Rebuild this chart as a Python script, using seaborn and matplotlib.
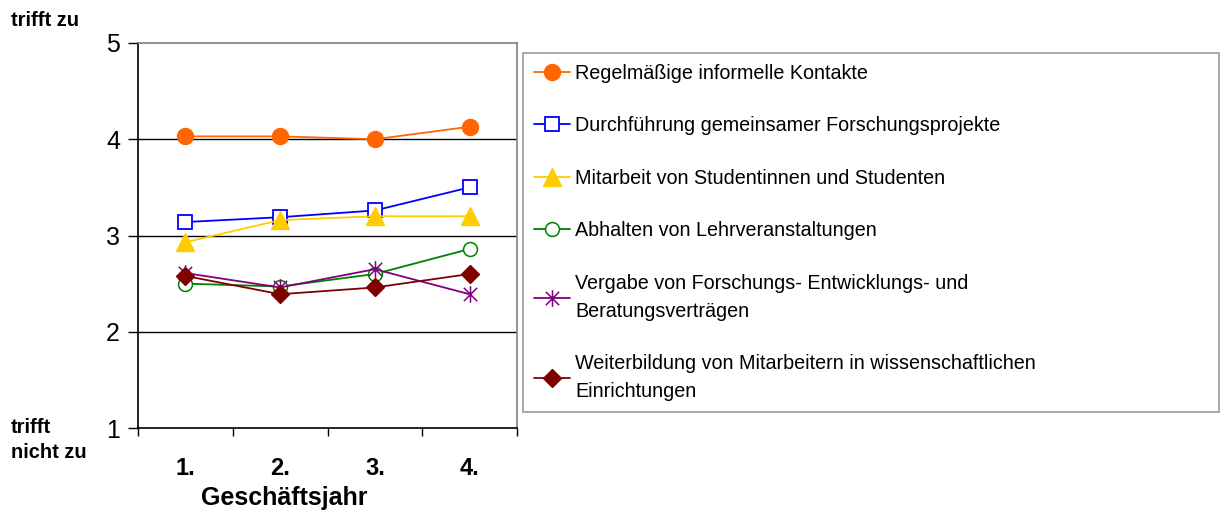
import numpy as np
import pandas as pd
import matplotlib
matplotlib.use("Agg")
import matplotlib.pyplot as plt
from matplotlib.path import Path
from matplotlib.ticker import FixedLocator, NullFormatter
import seaborn as sns

# ---- data ----
years = [1, 2, 3, 4]
year_labels = ["1.", "2.", "3.", "4."]
y_ticks = [1, 2, 3, 4, 5]

series_names = [
    "Regelmäßige informelle Kontakte",
    "Durchführung gemeinsamer Forschungsprojekte",
    "Mitarbeit von Studentinnen und Studenten",
    "Abhalten von Lehrveranstaltungen",
    "Vergabe von Forschungs- Entwicklungs- und\nBeratungsverträgen",
    "Weiterbildung von Mitarbeitern in wissenschaftlichen\nEinrichtungen",
]
kontakte = [4.03, 4.03, 4.00, 4.13]
forschungsprojekte = [3.14, 3.19, 3.26, 3.50]
studenten = [2.93, 3.16, 3.20, 3.20]
lehrveranstaltungen = [2.50, 2.47, 2.60, 2.86]
vertraege = [2.61, 2.46, 2.65, 2.39]
weiterbildung = [2.58, 2.39, 2.46, 2.60]
all_values = [kontakte, forschungsprojekte, studenten,
              lehrveranstaltungen, vertraege, weiterbildung]

# ---- styles ----
star = Path([(-1, -1), (1, 1), (-1, 1), (1, -1), (0, -1.25), (0, 1.25)],
            [Path.MOVETO, Path.LINETO, Path.MOVETO, Path.LINETO,
             Path.MOVETO, Path.LINETO])
styles = [
    dict(color="#FF6600", marker="o", mfc="#FF6600", ms=11.5, mew=1.0),
    dict(color="#0000FF", marker="s", mfc="white", ms=10.5, mew=1.3),
    dict(color="#FFCC00", marker="^", mfc="#FFCC00", ms=12.5, mew=1.0),
    dict(color="#008000", marker="o", mfc="white", ms=10, mew=1.1),
    dict(color="#800080", marker=star, mfc="none", ms=12, mew=1.1),
    dict(color="#800000", marker="D", mfc="#800000", ms=9.5, mew=1.0),
]

sns.set_style("white")
plt.rcParams["font.family"] = ["Liberation Sans", "DejaVu Sans"]
for k in ["text.color", "axes.labelcolor", "xtick.color", "ytick.color"]:
    plt.rcParams[k] = "black"

fig = plt.figure(figsize=(12.21, 5.15), dpi=100)
ax = fig.add_axes([138 / 1221, 1 - 428 / 515, (517 - 138) / 1221, (428 - 43) / 515])

for name, vals, st in zip(series_names, all_values, styles):
    df = pd.DataFrame({"Jahr": years, "Wert": vals})
    sns.lineplot(data=df, x="Jahr", y="Wert", ax=ax, color=st["color"],
                 marker=st["marker"], markerfacecolor=st["mfc"],
                 markeredgecolor=st["color"], markersize=st["ms"],
                 markeredgewidth=st["mew"], linewidth=1.3, label=name)

ax.set_xlim(0.5, 4.5)
ax.set_ylim(1, 5)
ax.set_yticks(y_ticks)
ax.set_yticklabels([str(v) for v in y_ticks], fontsize=18)
ax.set_xticks(years)
ax.set_xticklabels(year_labels, fontsize=17, fontweight="bold")
ax.xaxis.set_minor_locator(FixedLocator([0.5, 1.5, 2.5, 3.5, 4.5]))
ax.xaxis.set_minor_formatter(NullFormatter())
ax.tick_params(axis="x", which="major", length=0, pad=21)
ax.tick_params(axis="x", which="minor", length=6, width=1, color="black",
               direction="out", bottom=True)
ax.tick_params(axis="y", which="major", length=7, width=1, color="black",
               direction="out", left=True, pad=6)

for yv in [2, 3, 4]:
    ax.axhline(yv, color="black", lw=1, zorder=0)

ax.spines["left"].set_color("black")
ax.spines["bottom"].set_color("black")
ax.spines["top"].set_color("#808080")
ax.spines["right"].set_color("#808080")
for s in ax.spines.values():
    s.set_linewidth(1.2)

ax.set_ylabel("")
ax.set_xlabel("Geschäftsjahr", fontsize=18, fontweight="bold", va="center")
ax.xaxis.set_label_coords((284 - 138) / (517 - 138), -(498 - 428) / 385)

fig.text(11 / 1221, 1 - 20 / 515, "trifft zu", fontsize=14.5, fontweight="bold",
         va="center", ha="left")
fig.text(11 / 1221, 1 - 440 / 515, "trifft\nnicht zu", fontsize=14.5,
         fontweight="bold", va="center", ha="left", linespacing=1.35)

handles, labels = ax.get_legend_handles_labels()
ax.get_legend().remove()
leg = fig.legend(handles, labels, loc="upper left",
                 bbox_to_anchor=(523 / 1221, 1 - 423 / 515,
                                 (1219 - 523) / 1221, (423 - 52.7) / 515),
                 mode="expand", fontsize=14.2, frameon=True, fancybox=False,
                 edgecolor="#808080", handlelength=1.85, handletextpad=0.25,
                 borderpad=0.55, labelspacing=1.7, borderaxespad=0)
for t in leg.get_texts():
    t.set_linespacing(1.6)
leg.get_frame().set_linewidth(1.2)

fig.savefig("out.png", dpi=100, facecolor="white")
